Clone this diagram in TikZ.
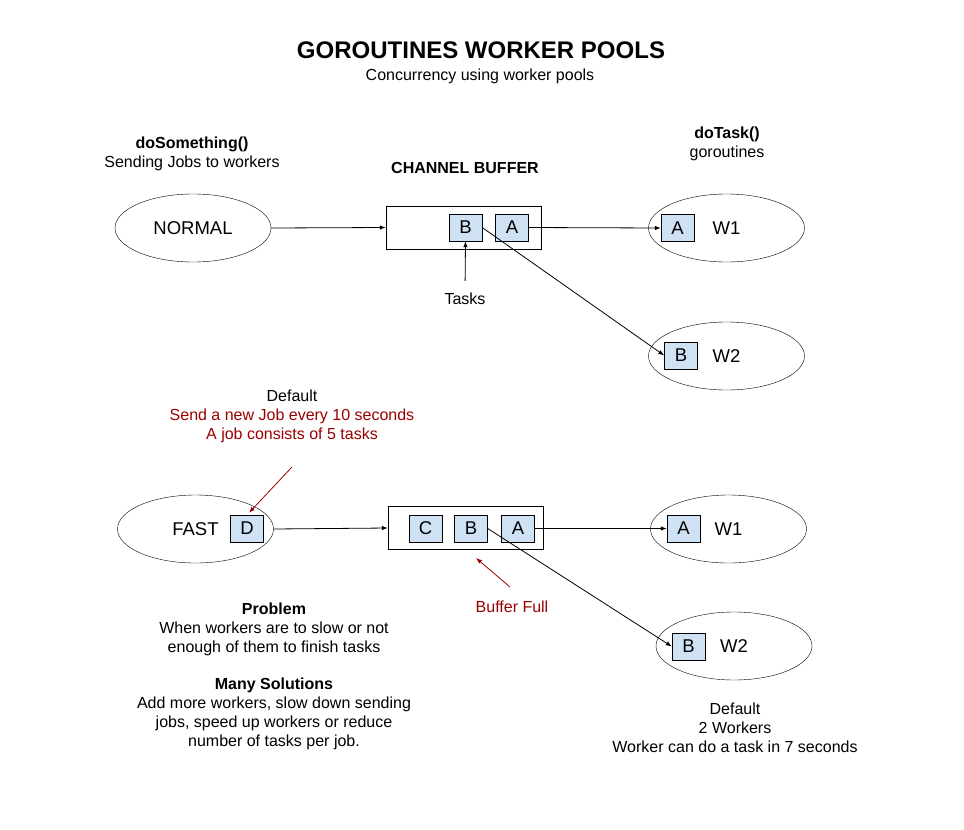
\documentclass[tikz,border=0pt]{standalone}
\usepackage{fontspec}
\setmainfont{Liberation Sans}
\usetikzlibrary{shapes.geometric,arrows.meta}
\definecolor{taskblue}{HTML}{CFE2F3}
\definecolor{notered}{HTML}{990000}

\begin{document}
\begin{tikzpicture}[x=1pt, y=-1pt,
		txt/.style={font=\fontsize{16}{19}\selectfont, align=center, inner sep=0pt},
		hd/.style={txt, font=\fontsize{16}{19}\selectfont\bfseries},
		worker/.style={draw, ellipse, minimum width=156pt, minimum height=68pt, inner sep=0pt, font=\fontsize{18.5}{22}\selectfont},
		buffer/.style={draw, rectangle, minimum width=155pt, minimum height=43pt, inner sep=0pt},
		task/.style={draw, fill=taskblue, minimum width=33pt, minimum height=27pt, inner sep=0pt, font=\fontsize{18.5}{22}\selectfont},
		link/.style={-{Latex[length=6pt,width=4.5pt]}, line width=0.8pt},
		note/.style={link, notered}]
			\useasboundingbox (0,0) rectangle (964,830);
			%title
			\node[txt, font=\fontsize{24}{28}\selectfont\bfseries] (title) at (481,50) {GOROUTINES WORKER POOLS};
			\node[txt] (subtitle) at (480,76) {Concurrency using worker pools};
			%column heads
			\node[txt] (sender) at (192,154) {\textbf{doSomething()}\\Sending Jobs to workers};
			\node[txt] (receiver) at (727,144) {\textbf{doTask()}\\goroutines};
			\node[hd] (chanhead) at (465,168) {CHANNEL BUFFER};
			%normal case
			\node[worker] (normal) at (193,228) {NORMAL};
			\node[buffer] (buf1) at (463.5,227.5) {};
			\node[task] (b1) at (465.5,227.5) {B};
			\node[task] (a1) at (512,227.5) {A};
			\node[worker] (w1top) at (726.5,228) {W1};
			\node[worker] (w2top) at (726.5,356) {W2};
			\node[task] (wa1) at (677.5,228) {A};
			\node[task] (wb2) at (681,355.5) {B};
			\node[txt] (tasks) at (465,299) {Tasks};
			\draw[link] (normal.east) -- (buf1.west);
			\draw[link, shorten <=12pt] (tasks.north) -- (b1.south);
			\draw[link] (a1.east) -- (wa1.west);
			\draw[link] (b1.east) -- (wb2.west);
			%fast case
			\node[txt] (jobnote) at (292,416) {Default\\\textcolor{notered}{Send a new Job every 10 seconds}\\\textcolor{notered}{A job consists of 5 tasks}};
			\node[worker] (fast) at (195.5,529) {FAST};
			\node[task] (d) at (247,528.5) {D};
			\node[buffer] (buf2) at (465.5,528) {};
			\node[task] (c2) at (425.5,528.5) {C};
			\node[task] (b2) at (471,528.5) {B};
			\node[task] (a2) at (518,528.5) {A};
			\node[worker] (w1bot) at (728.5,529) {W1};
			\node[worker] (w2bot) at (734,646) {W2};
			\node[task] (wa3) at (683.5,528.5) {A};
			\node[task] (wb4) at (688.5,646.5) {B};
			\node[txt, notered] (full) at (512,607) {Buffer Full};
			\coordinate (jobtail) at (292,467);
			\coordinate (fulltail) at (510,587);
			\coordinate (fulltip) at (476,558);
			\draw[link] (fast.east) -- (buf2.west);
			\draw[link] (a2.east) -- (wa3.west);
			\draw[link] (b2.east) -- (wb4.west);
			\draw[note] (jobtail) -- ([xshift=2pt, yshift=2pt]d.north);
			\draw[note] (fulltail) -- (fulltip);
			%notes
			\node[txt] (problem) at (274,629) {\textbf{Problem}\\When workers are to slow or not\\enough of them to finish tasks};
			\node[txt] (solutions) at (274,714) {\textbf{Many Solutions}\\Add more workers, slow down sending\\jobs, speed up workers or reduce\\number of tasks per job.};
			\node[txt] (workernote) at (735,728) {Default\\2 Workers\\Worker can do a task in 7 seconds};
		\end{tikzpicture}
\end{document}
